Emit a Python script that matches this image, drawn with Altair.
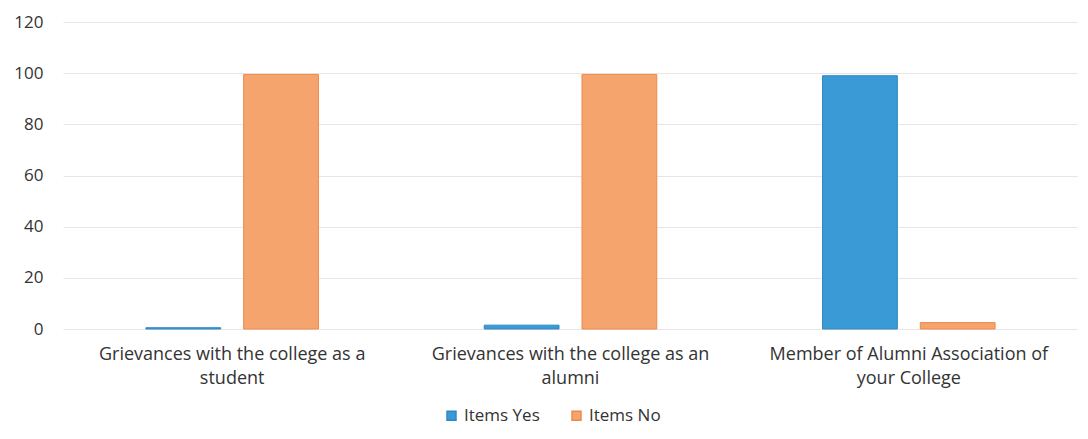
import altair as alt
import pandas as pd

categories = [
    "Grievances with the college as a student",
    "Grievances with the college as an alumni",
    "Member of Alumni Association of your College",
]
wrapped = [
    ["Grievances with the college as a", "student"],
    ["Grievances with the college as an", "alumni"],
    ["Member of Alumni Association of", "your College"],
]
series = ["Items Yes", "Items No"]
yes_values = [0.5, 1.5, 99]
no_values = [99.5, 99.5, 2.5]
colors = ["#3A9AD6", "#F4A46C"]

rows = []
for c, y, n in zip(categories, yes_values, no_values):
    rows.append({"cat": c, "series": "Items Yes", "value": y})
    rows.append({"cat": c, "series": "Items No", "value": n})
df = pd.DataFrame(rows)

label_expr = ""
for c, w in zip(categories, wrapped):
    label_expr += f"datum.value == '{c}' ? {w!r} : "
label_expr += "datum.value"

chart = (
    alt.Chart(df)
    .mark_bar(strokeWidth=1)
    .encode(
        x=alt.X(
            "cat:N",
            sort=categories,
            scale=alt.Scale(paddingInner=0.49, paddingOuter=0.245),
            axis=alt.Axis(
                title=None,
                labelAngle=0,
                labelExpr=label_expr,
                labelFontSize=18,
                labelColor="#333333",
                labelPadding=16,
                labelLineHeight=24,
                ticks=False,
                domain=False,
                labelLimit=400,
            ),
        ),
        xOffset=alt.XOffset(
            "series:N", sort=series, scale=alt.Scale(paddingInner=0.235, paddingOuter=0)
        ),
        y=alt.Y(
            "value:Q",
            scale=alt.Scale(domain=[0, 120]),
            axis=alt.Axis(
                title=None,
                values=[0, 20, 40, 60, 80, 100, 120],
                labelFontSize=17,
                labelColor="#333333",
                labelPadding=20,
                ticks=False,
                domain=False,
                gridColor="#ece4e4",
            ),
        ),
        color=alt.Color(
            "series:N",
            sort=series,
            scale=alt.Scale(domain=series, range=colors),
            legend=alt.Legend(
                title=None,
                orient="none",
                direction="horizontal",
                legendX=380,
                legendY=385,
                symbolType="square",
                symbolSize=80,
                labelFontSize=17,
                labelColor="#333333",
                columnPadding=28,
            ),
        ),
        stroke=alt.Stroke(
            "series:N",
            sort=series,
            scale=alt.Scale(domain=series, range=["#2F88C4", "#EE8A4A"]),
            legend=None,
        ),
    )
    .properties(
        width=1015,
        height=307,
        padding={"top": 5, "left": 5, "right": 0, "bottom": 2},
    )
    .configure(font="Open Sans")
    .configure_view(stroke=None)
)

chart.save("out.html", embed_options={"renderer": "svg", "actions": False})
